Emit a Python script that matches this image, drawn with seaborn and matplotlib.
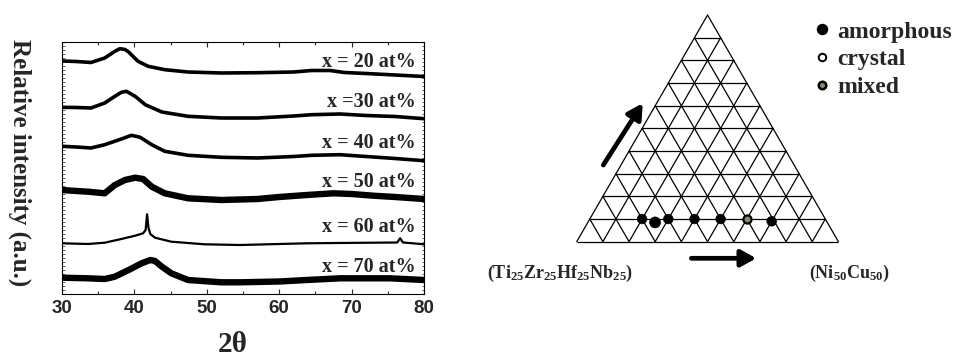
import numpy as np
import pandas as pd
import matplotlib
matplotlib.use("Agg")
import matplotlib.pyplot as plt
from matplotlib.lines import Line2D
from matplotlib.ticker import MultipleLocator, NullLocator
import seaborn as sns

# ---------------- data: XRD patterns (2theta, relative intensity, a.u.) ----------------
labels = ["x = 20 at%", "x =30 at%", "x = 40 at%", "x = 50 at%", "x = 60 at%", "x = 70 at%"]

tt_20 = [30, 32, 34, 35.9, 37.3, 38.0, 38.7, 39.2, 40.5, 41.9, 44.2, 47.4, 52, 57, 62, 64.5, 67, 69, 72, 76, 80]
i_20 = [233, 232.5, 231.5, 236, 242.7, 245.3, 244.5, 242, 232.7, 227.7, 224.3, 222, 221, 221.3, 222, 223.5, 223.5, 221.5, 220.5, 219, 217.5]

tt_30 = [30, 32, 34, 35.9, 37.3, 38.2, 38.9, 40.1, 41.5, 43.8, 47.4, 52, 57, 62, 64.5, 68.4, 72, 76, 80]
i_30 = [186.7, 186.5, 186, 191, 197.7, 201.7, 202.7, 197.7, 189.3, 182, 177.7, 176, 176, 178, 179.3, 180, 178.5, 177.5, 175.3]

tt_40 = [30, 32, 34, 35.9, 38.2, 39.6, 40.8, 42.4, 44.2, 47.4, 52, 57, 62, 64.5, 68.4, 72, 76, 80]
i_40 = [147.7, 147, 146, 149.3, 155, 158.7, 156.7, 149.3, 142.7, 138.7, 136.7, 136, 137.5, 138.7, 139.3, 137.5, 135.5, 133.3]

tt_50 = [30, 32, 33.6, 35.9, 37.3, 38.7, 40.1, 41.2, 42.4, 44.2, 47.4, 52, 57, 60, 63.8, 67.5, 70, 73, 76, 80]
i_50 = [104, 103, 102.3, 100.7, 109, 114, 116.3, 115, 107.3, 100.7, 95.7, 94, 95, 97, 99, 100.7, 100, 98.3, 97, 95]

tt_60 = [30, 33.6, 35.9, 38.2, 40.1, 41.2, 41.55, 41.75, 41.95, 42.2, 42.85, 45.1, 49.7, 54.6, 60, 63.8, 68, 73, 76.3, 76.7, 77.1, 78, 80]
i_60 = [50.7, 50, 51.3, 55, 58.3, 60.7, 64, 79.7, 66, 60, 56.3, 52.3, 49.7, 49, 50, 50.7, 51, 51.3, 51.5, 55.7, 51.5, 51, 49.7]

tt_70 = [30, 33.6, 35.9, 37.3, 39.2, 41.0, 42.2, 42.85, 43.8, 45.1, 47.4, 52, 54.6, 60, 63.8, 68.4, 75.3, 80]
i_70 = [16.3, 15.7, 15, 17.3, 24, 30.7, 34, 33, 27.3, 20.7, 14, 11.7, 11.7, 12.5, 14, 15.7, 15.7, 14]

label_y = [232, 192.3, 150.7, 112.3, 67.3, 27.3]

# ---------------- data: ternary compositions ----------------
frac_nicu = [0.20, 0.257, 0.30, 0.40, 0.50, 0.60, 0.70]
frac_apex = [0.10, 0.085, 0.10, 0.10, 0.10, 0.10, 0.09]
phase = ["amorphous", "amorphous", "amorphous", "amorphous", "amorphous", "mixed", "amorphous"]

# ---------------- style ----------------
sns.set_style("ticks")
plt.rcParams["font.family"] = ["Liberation Serif", "DejaVu Serif"]
plt.rcParams["mathtext.fontset"] = "custom"
plt.rcParams["mathtext.rm"] = "Liberation Serif:bold"
plt.rcParams["mathtext.it"] = "Liberation Serif:bold"
plt.rcParams["mathtext.bf"] = "Liberation Serif:bold"

fig = plt.figure(figsize=(9.56, 3.58), dpi=100)
W, H = 956, 358

# ---------------- left: XRD ----------------
ax = fig.add_axes([62 / W, 1 - 294 / H, 362 / W, 252.3 / H])
curves = [(tt_20, i_20, 2.6), (tt_30, i_30, 2.6), (tt_40, i_40, 2.6),
          (tt_50, i_50, 4.6), (tt_60, i_60, 1.6), (tt_70, i_70, 4.6)]
for (tt, ii, lw) in curves:
    sns.lineplot(x=tt, y=ii, ax=ax, color="black", lw=lw, estimator=None, sort=False)
for lab, ly in zip(labels, label_y):
    ax.text(78.8, ly, lab, ha="right", va="center", fontsize=14.5, fontweight="bold",
            family="Liberation Serif")

ax.set_xlim(30, 80)
ax.set_ylim(0, 252.3)
ax.xaxis.set_major_locator(MultipleLocator(10))
ax.xaxis.set_minor_locator(MultipleLocator(5))
ax.yaxis.set_major_locator(NullLocator())
ax.yaxis.set_minor_locator(MultipleLocator(4))
ax.tick_params(axis="x", which="major", direction="in", length=3.5, width=0.8, top=True, pad=4)
ax.tick_params(axis="x", which="minor", direction="in", length=2, width=0.8, top=True)
ax.tick_params(axis="y", which="minor", direction="in", length=1.8, width=0.5, left=True, right=True)
for t in ax.get_xticklabels():
    t.set_family("Liberation Sans")
    t.set_fontweight("bold")
    t.set_fontsize(13.5)
for sp in ax.spines.values():
    sp.set_linewidth(0.8)
    sp.set_color("black")
ax.set_xlabel("2θ", fontsize=21, fontweight="bold")
ax.xaxis.set_label_coords(0.472, -0.2)
ax.xaxis.label.set_va("center")
ax.set_ylabel("Relative intensity (a.u.)", fontsize=18, fontweight="bold", rotation=270)
ax.yaxis.set_label_coords(-0.116, 0.521)
ax.yaxis.label.set_va("center")
ax.yaxis.label.set_ha("center")

# ---------------- right: ternary ----------------
side = 261.7
x0, y0 = 576.7, 241.7
tx = fig.add_axes([460 / W, 0, 496 / W, 1])
tx.set_xlim((460 - x0) / side, (956 - x0) / side)
tx.set_ylim((y0 - 358) / side, y0 / side)
tx.axis("off")

h = np.sqrt(3) / 2
n = 10
for k in range(n + 1):
    f = k / n
    tx.plot([f / 2, 1 - f / 2], [f * h, f * h], color="black", lw=0.9, solid_capstyle="butt")
    tx.plot([f, f + (1 - f) / 2], [0, (1 - f) * h], color="black", lw=0.9)
    tx.plot([f, f / 2], [0, f * h], color="black", lw=0.9)

df = pd.DataFrame({"b": frac_nicu, "c": frac_apex, "phase": phase})
df["xc"] = df["b"] + df["c"] / 2
df["yc"] = df["c"] * h
df["sz"] = [44, 58, 44, 44, 44, 34, 44]
sns.scatterplot(data=df[df.phase == "amorphous"], x="xc", y="yc", ax=tx, color="black",
                size="sz", sizes=(48, 62), edgecolor="black", linewidth=0.5, legend=False, zorder=5)
sns.scatterplot(data=df[df.phase == "mixed"], x="xc", y="yc", ax=tx, color="#8f8b5e",
                s=34, edgecolor="black", linewidth=1.6, legend=False, zorder=5)
tx.set_xlim((460 - x0) / side, (956 - x0) / side)
tx.set_ylim((y0 - 358) / side, y0 / side)
tx.set_xlabel("")
tx.set_ylabel("")

# arrows
tx.annotate("", xy=(0.2522, 0.529), xytext=(0.1016, 0.293),
            arrowprops=dict(arrowstyle="-|>,head_length=0.45,head_width=0.25", lw=3.4,
                            color="black", mutation_scale=20, shrinkA=0, shrinkB=0))
tx.annotate("", xy=(0.686, -0.0634), xytext=(0.438, -0.0634),
            arrowprops=dict(arrowstyle="-|>,head_length=0.45,head_width=0.25", lw=3.4,
                            color="black", mutation_scale=20, shrinkA=0, shrinkB=0))

tx.text(-0.0619, -0.1196, r"$(\mathrm{Ti_{25}Zr_{25}Hf_{25}Nb_{25}})$", ha="center", va="center", fontsize=13)
tx.text(1.0405, -0.1196, r"$(\mathrm{Ni_{50}Cu_{50}})$", ha="center", va="center", fontsize=13)

handles = [
    Line2D([], [], ls="", marker="o", mfc="black", mec="black", ms=7.2),
    Line2D([], [], ls="", marker="o", mfc="white", mec="black", ms=5.4, mew=1.4),
    Line2D([], [], ls="", marker="o", mfc="#8f8b5e", mec="black", ms=5.4, mew=1.8),
]
leg = fig.legend(handles, ["amorphous", "crystal", "mixed"], loc="upper left",
                 bbox_to_anchor=(814 / W, 1 - 21 / H), frameon=False, borderpad=0,
                 borderaxespad=0, handlelength=0.7, handletextpad=0.3, labelspacing=0.27,
                 prop=dict(family="Liberation Serif", weight="bold", size=17))

fig.savefig("out.png", dpi=100)
